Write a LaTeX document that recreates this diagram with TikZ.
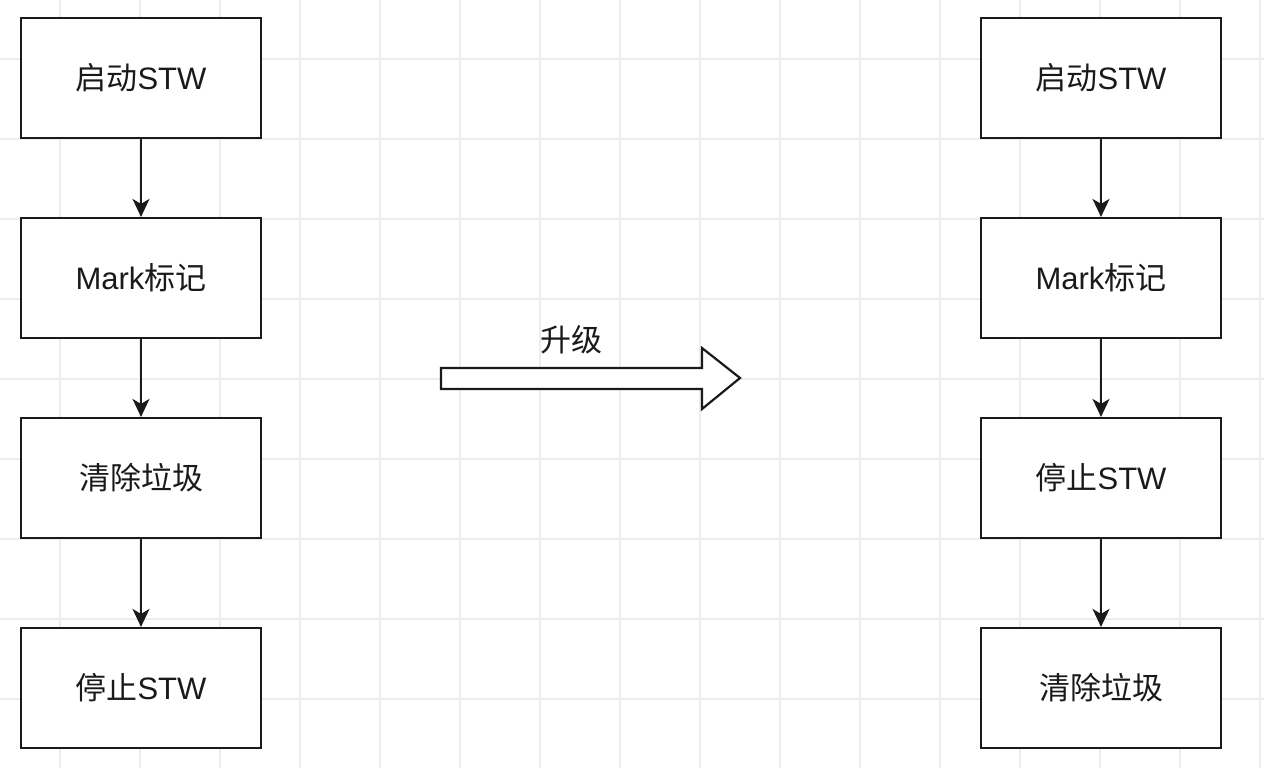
\documentclass[tikz,border=0pt]{standalone}
\usepackage{fontspec}
\setmainfont{Liberation Sans}
\newfontfamily\cjk{Noto Sans CJK SC}
\usetikzlibrary{arrows.meta}
\definecolor{gridc}{HTML}{EDEDED}
\definecolor{linec}{HTML}{1A1A1A}
\begin{document}
\begin{tikzpicture}[x=1pt,y=-1pt,
  stepbox/.style={draw=linec,line width=2.2pt,fill=white,minimum width=240pt,minimum height=120pt,inner sep=0pt,text=linec,font=\fontsize{31}{36}\selectfont},
  flow/.style={draw=linec,line width=2.2pt,-{Stealth[length=18pt,width=17pt,inset=5pt]}},
  gridline/.style={draw=gridc,line width=1.4pt}]
\useasboundingbox (0,0) rectangle (1264,768);
\fill[white] (0,0) rectangle (1264,768);
% grid
\foreach \gx in {60,140,...,1260} {\draw[gridline] (\gx,0) -- (\gx,768);}
\foreach \gy in {59,139,...,699} {\draw[gridline] (0,\gy) -- (1264,\gy);}
% left column
\node[stepbox] (l1) at (141,78) {{\cjk 启动}STW};
\node[stepbox] (l2) at (141,278) {Mark{\cjk 标记}};
\node[stepbox] (l3) at (141,478) {\cjk 清除垃圾};
\node[stepbox] (l4) at (141,688) {{\cjk 停止}STW};
\draw[flow] (l1) -- (l2);
\draw[flow] (l2) -- (l3);
\draw[flow] (l3) -- (l4);
% right column
\node[stepbox] (r1) at (1101,78) {{\cjk 启动}STW};
\node[stepbox] (r2) at (1101,278) {Mark{\cjk 标记}};
\node[stepbox] (r3) at (1101,478) {{\cjk 停止}STW};
\node[stepbox] (r4) at (1101,688) {\cjk 清除垃圾};
\draw[flow] (r1) -- (r2);
\draw[flow] (r2) -- (r3);
\draw[flow] (r3) -- (r4);
% upgrade arrow
\draw[draw=linec,line width=2.2pt,fill=white,line join=miter]
  (441,368) -- (702,368) -- (702,348) -- (740,378) -- (702,409) -- (702,389) -- (441,389) -- cycle;
\node[text=linec,font=\cjk\fontsize{31}{36}\selectfont] (lab) at (571,340) {升级};
\end{tikzpicture}
\end{document}
